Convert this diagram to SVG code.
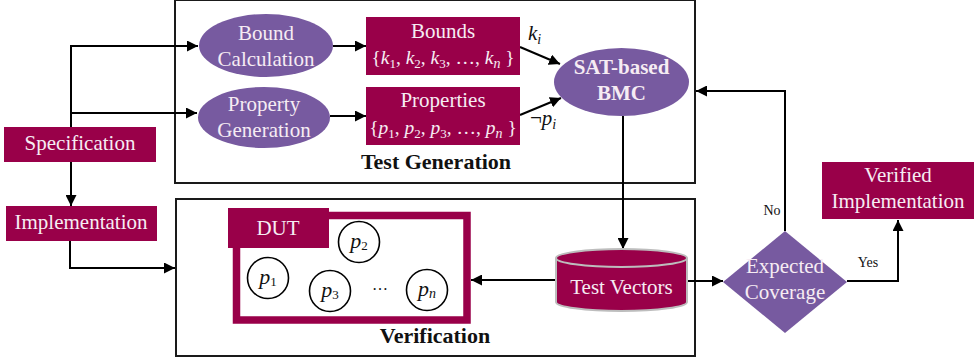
<svg xmlns="http://www.w3.org/2000/svg" width="975" height="359" viewBox="0 0 975 359">
  <defs>
    <marker id="arrow" viewBox="0 0 10 10" refX="10" refY="5" markerWidth="11" markerHeight="11" markerUnits="userSpaceOnUse" orient="auto">
      <path d="M0,0 L10,5 L0,10 z" fill="#000"/>
    </marker>
    <style>
      text { font-family: "Liberation Serif", "DejaVu Serif", serif; }
      .frame { fill: #fff; stroke: #1a1a1a; stroke-width: 2; }
      .box { fill: #990049; }
      .oval { fill: #775aa0; }
      .lbl { fill: #f6ecf3; font-size: 21px; text-anchor: middle; }
      .set { font-size: 19.5px; }
      .head { fill: #111; font-size: 22px; font-weight: bold; text-anchor: middle; }
      .math { font-style: italic; }
      .sub { font-size: 13px; font-style: normal; }
      .subi { font-size: 14px; font-style: italic; }
      .conn { fill: none; stroke: #000; stroke-width: 2; }
      .small { fill: #111; font-size: 14px; text-anchor: middle; }
      .pc { fill: #fff; stroke: #000; stroke-width: 1.6; }
      .pt { fill: #111; font-size: 22px; font-style: italic; text-anchor: middle; }
    </style>
  </defs>

  <!-- group frames -->
  <g id="test-generation">
    <rect class="frame" x="175" y="0" width="520" height="183"/>
    <text class="head" x="436" y="169">Test Generation</text>
  </g>
  <g id="verification">
    <rect class="frame" x="176" y="199" width="519" height="157"/>
    <text class="head" x="435" y="343">Verification</text>
  </g>

  <!-- connectors -->
  <g id="connectors">
    <path class="conn" d="M71,127 V46 H198" marker-end="url(#arrow)"/>
    <path class="conn" d="M71,113 H197" marker-end="url(#arrow)"/>
    <path class="conn" d="M71,162 V206" marker-end="url(#arrow)"/>
    <path class="conn" d="M70,241 V268 H175" marker-end="url(#arrow)"/>
    <path class="conn" d="M333,46 H366" marker-end="url(#arrow)"/>
    <path class="conn" d="M330,116 H366" marker-end="url(#arrow)"/>
    <path class="conn" d="M520,47 L560,64" marker-end="url(#arrow)"/>
    <path class="conn" d="M520,115 L561,98" marker-end="url(#arrow)"/>
    <path class="conn" d="M623,116 V249" marker-end="url(#arrow)"/>
    <path class="conn" d="M556,280 H471" marker-end="url(#arrow)"/>
    <path class="conn" d="M687,281 H723" marker-end="url(#arrow)"/>
    <path class="conn" d="M785,231 V91 H696" marker-end="url(#arrow)"/>
    <path class="conn" d="M847,281 H898 V220" marker-end="url(#arrow)"/>
    <text class="math" x="528" y="40" font-size="21" fill="#111">k<tspan class="subi" dy="4">i</tspan></text>
    <text class="math" x="530" y="125" font-size="21" fill="#111"><tspan font-style="normal">¬</tspan>p<tspan class="subi" dy="4">i</tspan></text>
    <text class="small" x="772" y="215">No</text>
    <text class="small" x="868" y="267">Yes</text>
  </g>

  <g id="specification">
    <rect class="box" x="4" y="127" width="152" height="35"/>
    <text class="lbl" x="80" y="150">Specification</text>
  </g>
  <g id="implementation">
    <rect class="box" x="6" y="206" width="151" height="35"/>
    <text class="lbl" x="81" y="229">Implementation</text>
  </g>

  <g id="bound-calculation">
    <ellipse class="oval" cx="266" cy="45.5" rx="67" ry="31.5"/>
    <text class="lbl" x="266" y="40">Bound</text>
    <text class="lbl" x="266" y="66">Calculation</text>
  </g>
  <g id="property-generation">
    <ellipse class="oval" cx="264" cy="117.5" rx="66" ry="30.5"/>
    <text class="lbl" x="264" y="111">Property</text>
    <text class="lbl" x="264" y="137">Generation</text>
  </g>

  <g id="bounds">
    <rect class="box" x="366" y="17" width="154" height="58"/>
    <text class="lbl" x="443" y="38">Bounds</text>
    <text class="lbl set" x="443" y="64">{<tspan class="math">k</tspan><tspan class="sub" dy="4">1</tspan><tspan dy="-4">, </tspan><tspan class="math">k</tspan><tspan class="sub" dy="4">2</tspan><tspan dy="-4">, </tspan><tspan class="math">k</tspan><tspan class="sub" dy="4">3</tspan><tspan dy="-4">, …, </tspan><tspan class="math">k</tspan><tspan class="subi" dy="4">n</tspan><tspan dy="-4"> }</tspan></text>
  </g>
  <g id="properties">
    <rect class="box" x="366" y="87" width="154" height="58"/>
    <text class="lbl" x="443" y="107">Properties</text>
    <text class="lbl set" x="443" y="134">{<tspan class="math">p</tspan><tspan class="sub" dy="4">1</tspan><tspan dy="-4">, </tspan><tspan class="math">p</tspan><tspan class="sub" dy="4">2</tspan><tspan dy="-4">, </tspan><tspan class="math">p</tspan><tspan class="sub" dy="4">3</tspan><tspan dy="-4">, …, </tspan><tspan class="math">p</tspan><tspan class="subi" dy="4">n</tspan><tspan dy="-4"> }</tspan></text>
  </g>

  <g id="sat-bmc">
    <ellipse class="oval" cx="621.5" cy="82" rx="67.5" ry="34"/>
    <text class="lbl" x="621.5" y="74" font-weight="bold" font-size="21.5">SAT-based</text>
    <text class="lbl" x="621.5" y="100" font-weight="bold" font-size="21.5">BMC</text>
  </g>

  <g id="dut">
    <rect x="236.5" y="215.5" width="230.5" height="104.5" fill="none" stroke="#990049" stroke-width="7.5"/>
    <rect class="box" x="228" y="208" width="101" height="40"/>
    <text class="lbl" x="278" y="235">DUT</text>
    <circle class="pc" cx="268" cy="278" r="20.5"/>
    <text class="pt" x="268" y="284">p<tspan class="sub" dy="2">1</tspan></text>
    <circle class="pc" cx="359" cy="242" r="20.5"/>
    <text class="pt" x="359" y="248">p<tspan class="sub" dy="2">2</tspan></text>
    <circle class="pc" cx="330" cy="291" r="20.5"/>
    <text class="pt" x="330" y="297">p<tspan class="sub" dy="2">3</tspan></text>
    <text x="380" y="290" font-size="16" text-anchor="middle" fill="#111">…</text>
    <circle class="pc" cx="427" cy="290" r="20.5"/>
    <text class="pt" x="427" y="296">p<tspan class="subi" dy="2">n</tspan></text>
  </g>

  <g id="test-vectors">
    <path d="M556,258 V302 A65.5,9 0 0 0 687,302 V258" fill="#990049" stroke="#bdbdbd" stroke-width="2"/>
    <ellipse cx="621.5" cy="258" rx="65.5" ry="9" fill="#990049" stroke="#bdbdbd" stroke-width="2"/>
    <text class="lbl" x="621.5" y="294">Test Vectors</text>
  </g>

  <g id="expected-coverage">
    <polygon class="oval" points="785,231 847,282 785,333 723,282"/>
    <text class="lbl" x="785" y="273">Expected</text>
    <text class="lbl" x="785" y="299">Coverage</text>
  </g>

  <g id="verified-implementation">
    <rect class="box" x="822" y="162" width="152" height="57"/>
    <text class="lbl" x="898" y="182">Verified</text>
    <text class="lbl" x="898" y="208">Implementation</text>
  </g>
</svg>
